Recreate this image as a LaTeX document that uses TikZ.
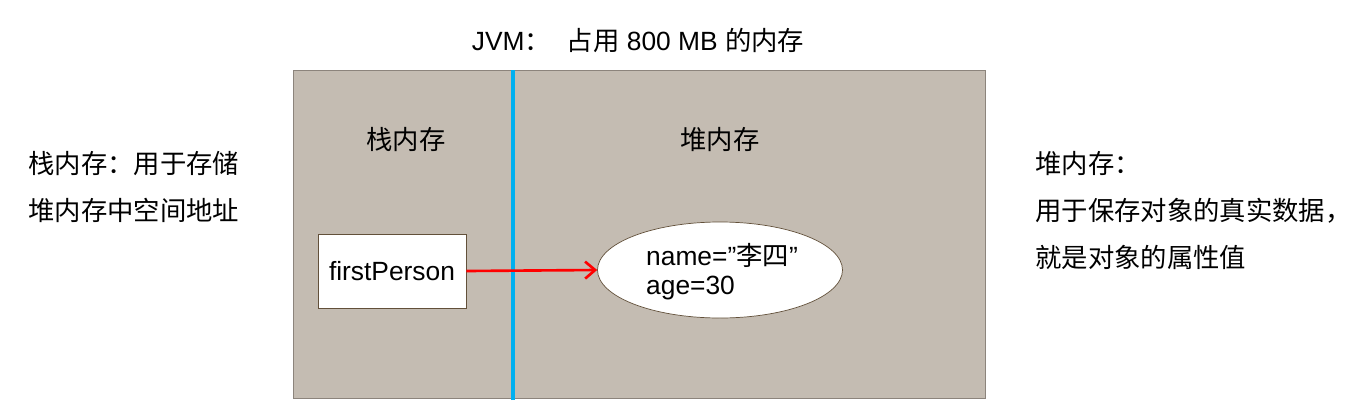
\documentclass[tikz,border=0pt]{standalone}
\usepackage{fontspec}
\setmainfont{Liberation Sans}
\newfontfamily\cjk{Noto Sans CJK SC}
\usetikzlibrary{arrows.meta,shapes.geometric}

\definecolor{memfill}{RGB}{196,188,178}
\definecolor{memline}{RGB}{140,132,124}
\definecolor{objline}{RGB}{98,80,58}
\definecolor{splitblue}{RGB}{0,176,240}

\tikzset{
  txt/.style={font=\fontsize{15}{27}\selectfont, inner sep=0pt},
  refbox/.style={draw=objline, fill=white, minimum width=2.96cm, minimum height=1.48cm, font=\fontsize{15}{17}\selectfont},
  objoval/.style={ellipse, draw=objline, fill=white, minimum width=4.9cm, minimum height=1.92cm, inner sep=0pt},
}

\begin{document}
\begin{tikzpicture}
\useasboundingbox (0,0) rectangle (27.06,8.36);

% JVM memory area
\draw[memline, fill=memfill] (5.86,0.40) rectangle (19.70,6.96);
\draw[splitblue, line width=2.2pt] (10.26,0.36) -- (10.26,6.96);

\node[txt] (jvm) at (12.76,7.56) {JVM{\cjk ：}\hspace{0.6em}{\cjk 占用} 800 MB {\cjk 的内存}};
\node[txt] (stacklbl) at (8.12,5.56) {\cjk 栈内存};
\node[txt] (heaplbl) at (14.40,5.56) {\cjk 堆内存};

% side notes
\node[txt, anchor=west, align=left] (stacknote) at (0.56,4.62) {{\cjk 栈内存：用于存储}\\{\cjk 堆内存中空间地址}};
\node[txt, anchor=west, align=left] (heapnote) at (20.70,4.15) {{\cjk 堆内存：}\\{\cjk 用于保存对象的真实数据，}\\{\cjk 就是对象的属性值}};

% reference and object
\node[refbox] (ref) at (7.84,2.94) {firstPerson};
\node[objoval] (obj) at (14.40,2.96) {};
\node[txt, align=left, font=\fontsize{15}{16.5}\selectfont] (objtxt) at (14.44,2.92) {name=”{\cjk 李四}”\\age=30};

\draw[red, line width=1.5pt, -{Straight Barb[length=2mm,width=3.4mm]}] (ref.east) -- (obj.west);

\end{tikzpicture}
\end{document}
